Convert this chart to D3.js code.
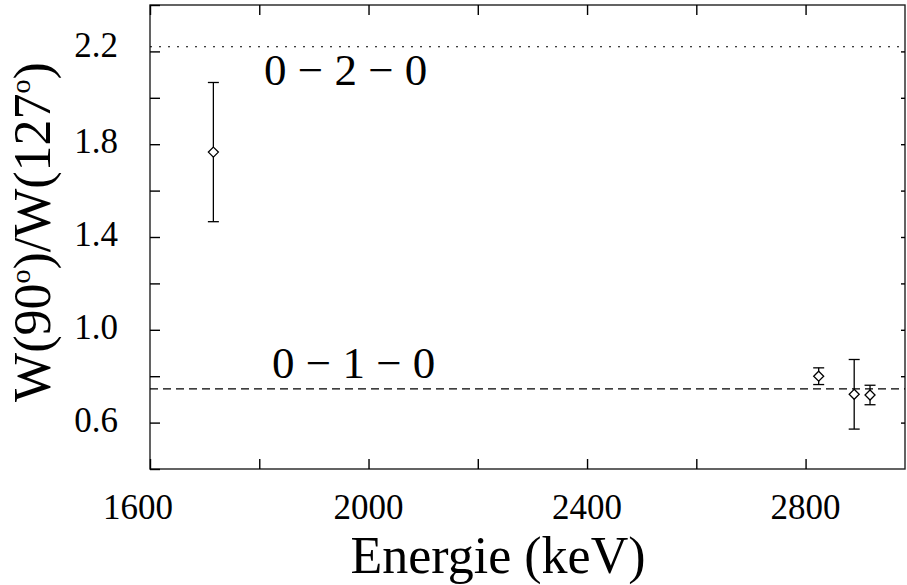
<!DOCTYPE html>
<html>
<head>
<meta charset="utf-8">
<script src="https://cdn.jsdelivr.net/npm/d3@7"></script>
<style>
  body { margin: 0; background: #fff; }
  text { font-family: "Liberation Serif", "Times New Roman", serif; fill: #000; }
</style>
</head>
<body>
<div id="chart"></div>
<script>
// measured points: energy (keV), W(90)/W(127) ratio and its error
var energies = [1716, 2824, 2889, 2918];
var ratios   = [1.766, 0.800, 0.722, 0.719];
var errors   = [0.300, 0.036, 0.150, 0.042];

// theoretical cascades
var cascadeLabels = ["0 \u2212 2 \u2212 0", "0 \u2212 1 \u2212 0"];
var cascadeValues = [2.22, 0.745];

var xTicks = [1600, 2000, 2400, 2800];
var xMinorTicks = [1800, 2200, 2600];
var yTicks = [0.6, 1.0, 1.4, 1.8, 2.2];
var yMinorTicks = [0.4, 0.8, 1.2, 1.6, 2.0, 2.4];

var width = 907, height = 585;
var margin = {top: 5, right: 2, bottom: 116, left: 150};
var plotW = width - margin.left - margin.right,
    plotH = height - margin.top - margin.bottom;

var svg = d3.select("#chart")
            .append("svg")
            .attr("width", width)
            .attr("height", height);

var g = svg.append("g")
           .attr("transform", "translate(" + margin.left + "," + margin.top + ")");

var xScale = d3.scaleLinear().domain([1600, 2982]).range([0, plotW]);
var yScale = d3.scaleLinear().domain([0.4, 2.4]).range([plotH, 0]);

// frame
g.append("rect")
    .attr("width", plotW)
    .attr("height", plotH)
    .attr("fill", "none")
    .attr("stroke", "#222")
    .attr("stroke-width", 1.4);

// bottom and top axis, ticks point inward
var allX = xTicks.concat(xMinorTicks);
g.append("g")
    .attr("transform", "translate(0," + plotH + ")")
    .call(d3.axisBottom(xScale).tickValues(allX).tickSizeInner(-10).tickSizeOuter(0).tickFormat(""))
    .call(function(ax){ ax.select(".domain").remove(); });

g.append("g")
    .call(d3.axisTop(xScale).tickValues(allX).tickSizeInner(-10).tickSizeOuter(0).tickFormat(""))
    .call(function(ax){ ax.select(".domain").remove(); });

g.selectAll(".xlabel")
    .data(xTicks)
    .enter().append("text")
    .attr("class", "xlabel")
    .attr("x", function(d){ return xScale(d) - (d == 1600 ? 12 : 0); })
    .attr("y", plotH + 50)
    .attr("text-anchor", "middle")
    .style("font-size", "35px")
    .text(function(d){ return d; });

// left axis
var allY = yTicks.concat(yMinorTicks);
g.append("g")
    .call(d3.axisLeft(yScale).tickValues(allY).tickSizeInner(-10).tickSizeOuter(0).tickFormat(""))
    .call(function(ax){ ax.select(".domain").remove(); });

// right axis, short ticks
g.append("g")
    .attr("transform", "translate(" + plotW + ",0)")
    .call(d3.axisRight(yScale).tickValues(allY.filter(function(d){ return d > 0.45 && d < 2.35; }))
        .tickSizeInner(-4).tickSizeOuter(0).tickFormat(""))
    .call(function(ax){ ax.select(".domain").remove(); });

g.selectAll(".tick line").attr("stroke", "#000").attr("stroke-width", 1.4);

g.selectAll(".ylabel")
    .data(yTicks)
    .enter().append("text")
    .attr("class", "ylabel")
    .attr("x", -32)
    .attr("y", function(d){ return yScale(d) + (d > 2 ? 6 : 9); })
    .attr("text-anchor", "end")
    .style("font-size", "35px")
    .text(function(d){ return d.toFixed(1); });

// cascade lines
g.append("line")
    .attr("x1", 0).attr("x2", plotW)
    .attr("y1", yScale(cascadeValues[0])).attr("y2", yScale(cascadeValues[0]))
    .attr("stroke", "#000")
    .attr("stroke-width", 1.2)
    .attr("stroke-dasharray", "2,7");

g.append("line")
    .attr("x1", 0).attr("x2", plotW)
    .attr("y1", yScale(cascadeValues[1])).attr("y2", yScale(cascadeValues[1]))
    .attr("stroke", "#000")
    .attr("stroke-width", 1.2)
    .attr("stroke-dasharray", "8,5");

g.append("text")
    .attr("x", 114)
    .attr("y", yScale(cascadeValues[0]) + 38)
    .style("font-size", "45px")
    .text(cascadeLabels[0]);

g.append("text")
    .attr("x", 122)
    .attr("y", yScale(cascadeValues[1]) - 11)
    .style("font-size", "45px")
    .text(cascadeLabels[1]);

// error bars and diamonds
var pts = energies.map(function(e, i){ return {x: e, y: ratios[i], err: errors[i]}; });

var bars = g.selectAll(".err")
    .data(pts)
    .enter().append("g")
    .attr("class", "err")
    .attr("stroke", "#000")
    .attr("stroke-width", 1.3)
    .attr("fill", "none");

bars.append("line")
    .attr("x1", function(d){ return xScale(d.x); })
    .attr("x2", function(d){ return xScale(d.x); })
    .attr("y1", function(d){ return yScale(d.y + d.err); })
    .attr("y2", function(d){ return yScale(d.y - d.err); });

[1, -1].forEach(function(s){
    bars.append("line")
        .attr("x1", function(d){ return xScale(d.x) - 5.5; })
        .attr("x2", function(d){ return xScale(d.x) + 5.5; })
        .attr("y1", function(d){ return yScale(d.y + s * d.err); })
        .attr("y2", function(d){ return yScale(d.y + s * d.err); });
});

bars.append("path")
    .attr("fill", "#fff")
    .attr("d", function(d){
        var cx = xScale(d.x), cy = yScale(d.y), r = 5;
        return "M" + cx + "," + (cy - r) + "L" + (cx + r) + "," + cy +
               "L" + cx + "," + (cy + r) + "L" + (cx - r) + "," + cy + "Z";
    });

// axis titles
svg.append("text")
    .attr("x", 498)
    .attr("y", 573)
    .attr("text-anchor", "middle")
    .style("font-size", "52px")
    .text("Energie (keV)");

var yt = svg.append("text")
    .attr("transform", "translate(50,232) rotate(-90)")
    .attr("text-anchor", "middle")
    .style("font-size", "52px");
yt.append("tspan").text("W(90");
yt.append("tspan").attr("dy", -20).style("font-size", "28px").text("o");
yt.append("tspan").attr("dy", 20).text(")/W(127");
yt.append("tspan").attr("dy", -20).style("font-size", "28px").text("o");
yt.append("tspan").attr("dy", 20).text(")");
</script>
</body>
</html>
